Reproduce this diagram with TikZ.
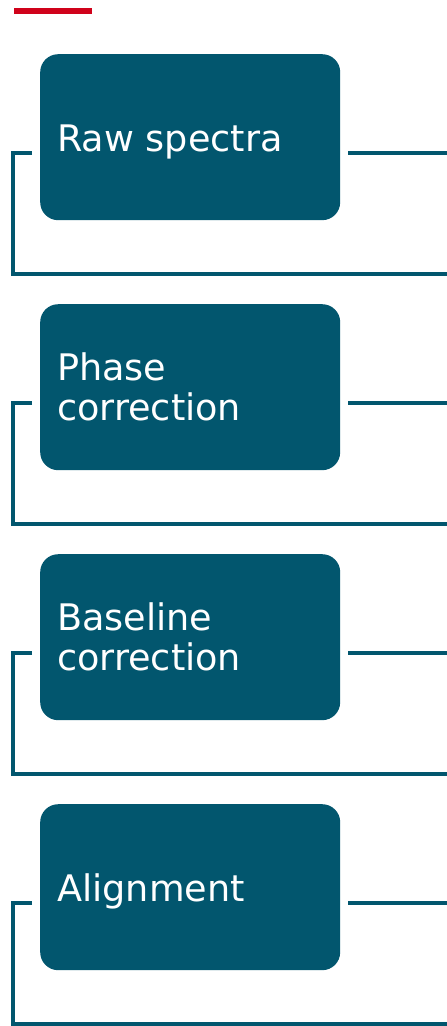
\documentclass[tikz,border=0pt]{standalone}
\usepackage{fontspec}
\setmainfont{DejaVu Sans}
\definecolor{boxteal}{RGB}{2,86,110}
\definecolor{barred}{RGB}{208,2,27}
\begin{document}
\begin{tikzpicture}[x=1pt,y=-1pt,
  stepbox/.style={rectangle, rounded corners=18pt, fill=boxteal, draw=none,
    minimum width=300pt, minimum height=166pt, inner sep=0pt, anchor=north west},
  steptext/.style={align=left, text=white, inner sep=0pt, anchor=west,
    font=\fontsize{36.6}{40}\selectfont},
  link/.style={draw=boxteal, line width=4pt}]
\useasboundingbox (0,0) rectangle (447,1026);
\fill[barred] (14,8) rectangle (92,14);
\foreach \i/\t/\s in {1/{Raw spectra}/-4.5,2/{Phase\\correction}/0,3/{Baseline\\correction}/0,4/{Alignment}/-4.5}{
  \pgfmathsetmacro{\yt}{54+250*(\i-1)}
  \pgfmathsetmacro{\yl}{153+250*(\i-1)}
  \pgfmathsetmacro{\yb}{273.5+250*(\i-1)}
  \node[stepbox] (b\i) at (40,\yt) {};
  \node[steptext] (t\i) at ([xshift=17pt,yshift=\s pt]b\i.west) {\t};
  \coordinate (ls\i) at ([xshift=-8pt]b\i.west |- 0,\yl);
  \coordinate (lc\i) at (13,\yl);
  \coordinate (lb\i) at (13,\yb);
  \coordinate (le\i) at (447,\yb);
  \coordinate (rs\i) at ([xshift=8pt]b\i.east |- 0,\yl);
  \coordinate (re\i) at (447,\yl);
  \draw[link] (ls\i) -- (lc\i) -- (lb\i) -- (le\i);
  \draw[link] (rs\i) -- (re\i);
}
\end{tikzpicture}
\end{document}
